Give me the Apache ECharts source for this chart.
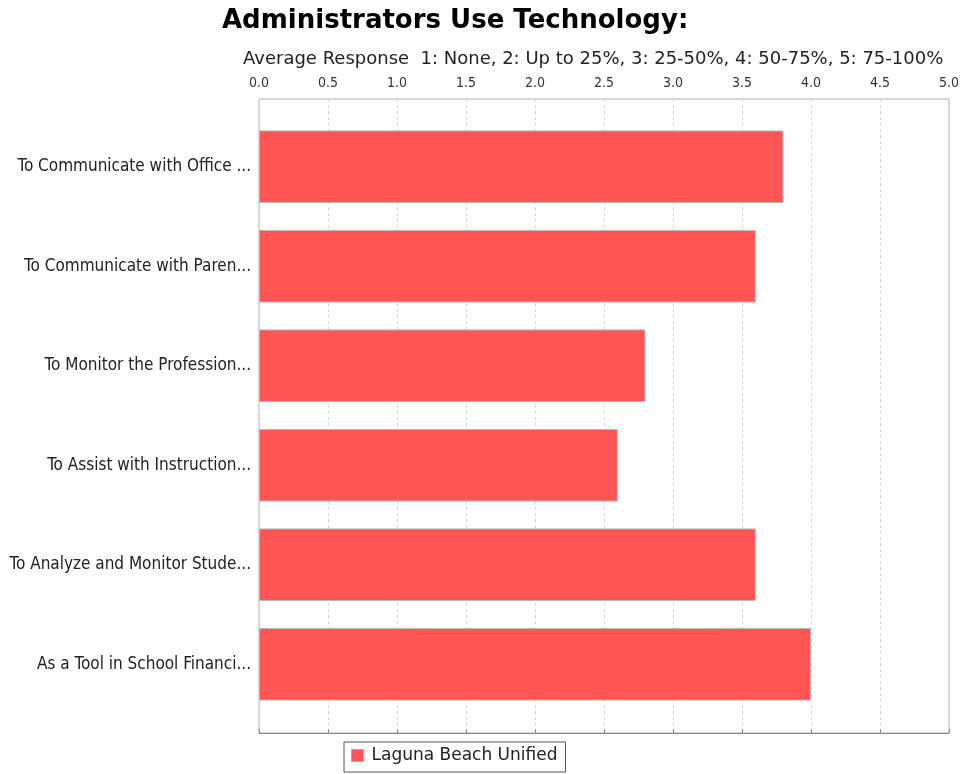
<!DOCTYPE html>
<html>
<head>
<meta charset="utf-8">
<script src="https://cdn.jsdelivr.net/npm/echarts@6/dist/echarts.min.js"></script>
<style>html,body{margin:0;padding:0;background:#fff}#c{width:963px;height:774px}</style>
</head>
<body>
<div id="c"></div>
<script>
const categories = [
  "To Communicate with Office ...",
  "To Communicate with Paren...",
  "To Monitor the Profession...",
  "To Assist with Instruction...",
  "To Analyze and Monitor Stude...",
  "As a Tool in School Financi..."
];
const seriesName = "Laguna Beach Unified";
const values = [3.8, 3.6, 2.8, 2.6, 3.6, 4.0];
const xTicks = ["0.0","0.5","1.0","1.5","2.0","2.5","3.0","3.5","4.0","4.5","5.0"];
const titleText = "Administrators Use Technology:";
const axisTitle = "Average Response  1: None, 2: Up to 25%, 3: 25-50%, 4: 50-75%, 5: 75-100%";

const chart = echarts.init(document.getElementById('c'));
const L = 259, W = 690;
chart.setOption({
  animation: false,
  backgroundColor: '#fff',
  title: [
    { text: titleText, left: 222, top: 8, padding: 0,
      textStyle: { fontFamily: 'DejaVu Sans', fontWeight: 'bold', fontSize: 26, color: '#000' } },
    { text: axisTitle, left: 243, top: 50, padding: 0,
      textStyle: { fontFamily: 'DejaVu Sans', fontWeight: 'normal', fontSize: 18, color: '#222' } }
  ],
  legend: {
    data: [seriesName], left: 344, top: 742, orient: 'horizontal',
    icon: 'rect', itemWidth: 12, itemHeight: 12,
    borderColor: '#555', borderWidth: 1, padding: [5, 8, 8, 7],
    itemStyle: { borderColor: '#aaa', borderWidth: 1 },
    textStyle: { fontFamily: 'DejaVu Sans', fontSize: 17, color: '#222', padding: [0, 0, 0, 3] }
  },
  grid: [
    { left: L, top: 99, width: W, height: 634, show: true, borderColor: '#b0b0b0', borderWidth: 1, containLabel: false },
    { left: L, top: 117, width: W, height: 597, containLabel: false }
  ],
  xAxis: [
    { gridIndex: 0, type: 'value', position: 'top', min: 0, max: 5, interval: 0.5,
      axisLine: { show: true, lineStyle: { color: '#888' } },
      axisTick: { show: true, length: 4, lineStyle: { color: '#888' } },
      axisLabel: { margin: 9, fontFamily: 'DejaVu Sans Condensed', fontSize: 14, color: '#333',
        formatter: (v) => xTicks[Math.round(v * 2)] },
      splitLine: { show: true, lineStyle: { color: '#d8d8d8', type: [3, 3] } } },
    { gridIndex: 1, type: 'value', min: 0, max: 5, show: false }
  ],
  yAxis: [
    { gridIndex: 0, type: 'value', show: false, min: 0, max: 1 },
    { gridIndex: 1, type: 'category', data: categories, inverse: true,
      axisLine: { show: false }, axisTick: { show: false },
      axisLabel: { margin: 8, fontFamily: 'DejaVu Sans Condensed', fontSize: 17, color: '#222' } }
  ],
  series: [{
    name: seriesName, type: 'bar', xAxisIndex: 1, yAxisIndex: 1,
    data: values, barCategoryGap: '27%',
    itemStyle: { color: '#ff5555', borderColor: '#b8b8b8', borderWidth: 1 }
  }]
});
</script>
</body>
</html>
